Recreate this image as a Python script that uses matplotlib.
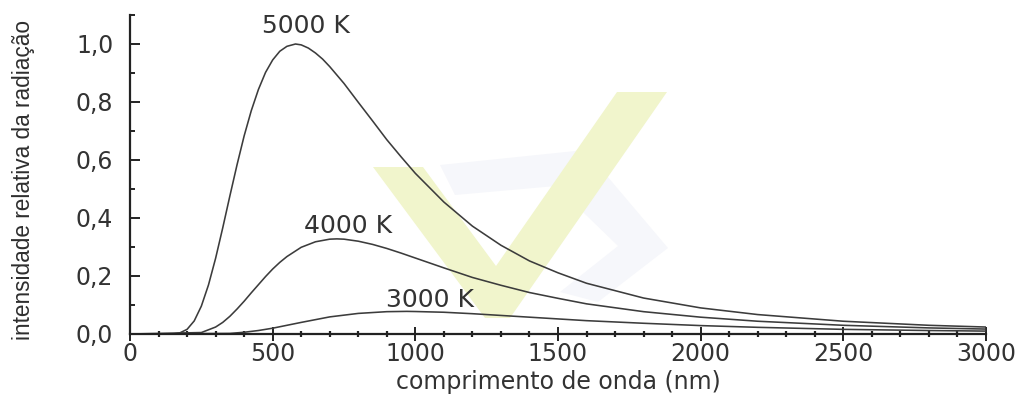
import numpy as np
import matplotlib
matplotlib.use("Agg")
import matplotlib.pyplot as plt
from matplotlib.patches import Polygon
from matplotlib.ticker import MultipleLocator, FixedLocator, FixedFormatter

# wavelength (nm) and relative intensity
wl_5000 = [0, 150, 175, 200, 225, 250, 275, 300, 325, 350, 375, 400, 425, 450, 475, 500, 525, 550, 580,
           600, 625, 650, 675, 700, 750, 800, 850, 900, 950, 1000, 1100, 1200, 1300, 1400, 1500, 1600,
           1800, 2000, 2200, 2500, 2800, 3000]
i_5000 = [0, 0, 0.004, 0.016, 0.045, 0.096, 0.169, 0.261, 0.366, 0.476, 0.583, 0.683, 0.770, 0.843, 0.902,
          0.945, 0.975, 0.992, 1.0, 0.997, 0.986, 0.969, 0.948, 0.922, 0.864, 0.799, 0.735, 0.670, 0.611,
          0.554, 0.455, 0.372, 0.306, 0.252, 0.211, 0.175, 0.124, 0.090, 0.067, 0.044, 0.030, 0.024]

wl_4000 = [0, 250, 300, 325, 350, 375, 400, 425, 450, 475, 500, 525, 550, 600, 650, 700, 725, 750, 800,
           850, 900, 950, 1000, 1100, 1200, 1300, 1400, 1500, 1600, 1800, 2000, 2200, 2500, 2800, 3000]
i_4000 = [0, 0.005, 0.024, 0.040, 0.061, 0.086, 0.113, 0.142, 0.170, 0.198, 0.224, 0.247, 0.267, 0.299,
          0.318, 0.327, 0.328, 0.327, 0.320, 0.309, 0.295, 0.279, 0.262, 0.228, 0.195, 0.168, 0.143,
          0.123, 0.104, 0.077, 0.058, 0.044, 0.030, 0.021, 0.017]

wl_3000 = [0, 350, 400, 450, 500, 600, 700, 800, 900, 970, 1000, 1100, 1200, 1300, 1400, 1500, 1600,
           1800, 2000, 2200, 2500, 2800, 3000]
i_3000 = [0, 0.002, 0.006, 0.012, 0.020, 0.040, 0.059, 0.071, 0.077, 0.078, 0.0775, 0.075, 0.070, 0.064,
          0.058, 0.052, 0.046, 0.037, 0.029, 0.023, 0.016, 0.012, 0.010]

curve_names = ["5000 K", "4000 K", "3000 K"]
label_pos = [(617, 1.062), (764, 0.374), (1051, 0.118)]  # where each name sits (data units)

y_ticks = [0.0, 0.2, 0.4, 0.6, 0.8, 1.0]
y_ticklabels = ["0,0", "0,2", "0,4", "0,6", "0,8", "1,0"]
x_ticks = [0, 500, 1000, 1500, 2000, 2500, 3000]

W, H = 1033, 401
fig = plt.figure(figsize=(W / 100, H / 100), dpi=100)
ax = fig.add_axes([130 / W, (H - 334) / H, 856 / W, 319 / H])

def px(x, y):
    return (x / W, 1 - y / H)

# faint watermark behind the curves
chev = [px(*p) for p in [(440, 165), (585, 150), (668, 248), (598, 302), (560, 292), (618, 246), (556, 186), (455, 195)]]
ax.add_patch(Polygon(chev, closed=True, transform=fig.transFigure, facecolor="#f6f7fb",
                     edgecolor="none", zorder=0.4, clip_on=False))
vee = [px(*p) for p in [(373, 167), (423, 167), (496, 266), (617, 92), (667, 92), (510, 318), (485, 318)]]
ax.add_patch(Polygon(vee, closed=True, transform=fig.transFigure, facecolor="#f1f5cc",
                     edgecolor="none", zorder=0.5, clip_on=False))

line_col = "#3c3c3c"
for wl, inten in [(wl_5000, i_5000), (wl_4000, i_4000), (wl_3000, i_3000)]:
    ax.plot(wl, inten, color=line_col, lw=1.15, zorder=2)

for name, (lx, ly) in zip(curve_names, label_pos):
    ax.text(lx, ly, name, ha="center", va="center", fontsize=18, color="#333333", zorder=3)

ax.set_xlim(0, 3000)
ax.set_ylim(0, 1.1)
for s in ["top", "right"]:
    ax.spines[s].set_visible(False)
for s in ["left", "bottom"]:
    ax.spines[s].set_linewidth(1.6)
    ax.spines[s].set_color("#222222")

ax.xaxis.set_major_locator(FixedLocator(x_ticks))
ax.xaxis.set_minor_locator(MultipleLocator(100))
ax.yaxis.set_major_locator(FixedLocator(y_ticks))
ax.yaxis.set_major_formatter(FixedFormatter(y_ticklabels))
ax.yaxis.set_minor_locator(MultipleLocator(0.1))

ax.tick_params(axis="x", which="major", direction="inout", length=10, width=1.4, color="#222222",
               labelsize=17, labelcolor="#333333", pad=1)
ax.tick_params(axis="x", which="minor", direction="inout", length=4, width=1.6, color="#222222")
ax.tick_params(axis="y", which="major", direction="in", length=7, width=1.4, color="#222222",
               labelsize=17, labelcolor="#333333", pad=12)
ax.tick_params(axis="y", which="minor", direction="in", length=3.5, width=1.4, color="#222222")

ax.set_xlabel("comprimento de onda (nm)", fontsize=17, color="#333333", labelpad=3)
fig.text(24 / W, 1 - 180 / H, "intensidade relativa da radiação", rotation=90, ha="center", va="center",
         fontsize=16.3, color="#2e2e2e", family=["Liberation Sans", "DejaVu Sans"])

fig.savefig("out.png", dpi=100, facecolor="white")
